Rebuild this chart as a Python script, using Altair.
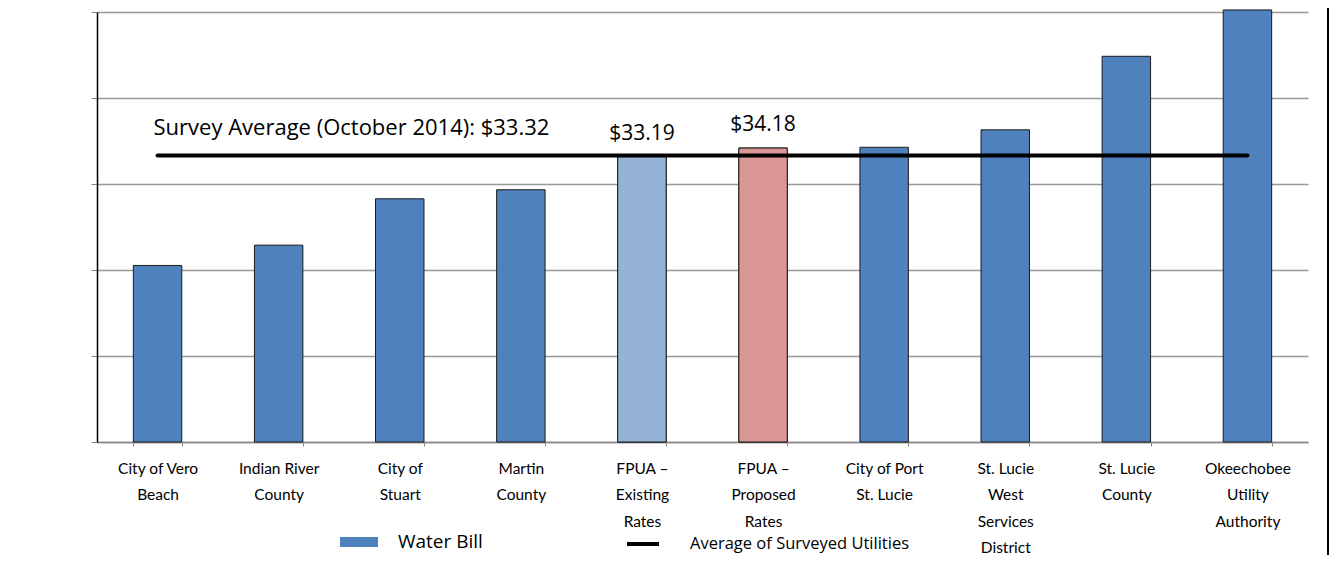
import altair as alt
import pandas as pd

categories = ["City of Vero|Beach", "Indian River|County", "City of|Stuart", "Martin|County",
              "FPUA –|Existing|Rates", "FPUA –|Proposed|Rates", "City of Port|St. Lucie",
              "St. Lucie|West|Services|District", "St. Lucie|County", "Okeechobee|Utility|Authority"]
water_bill = [20.53, 22.89, 28.28, 29.33, 33.19, 34.18, 34.27, 36.30, 44.85, 50.24]
bar_colors = ["#4F81BD", "#4F81BD", "#4F81BD", "#4F81BD", "#95B3D7", "#D99694",
              "#4F81BD", "#4F81BD", "#4F81BD", "#4F81BD"]
value_labels = ["", "", "", "", "$33.19", "$34.18", "", "", "", ""]
survey_average = 33.32
avg_text = "Survey Average (October 2014): $33.32"

FONT = "Lato"
FONT2 = "Open Sans"

df = pd.DataFrame({
    "cat": categories,
    "bill": water_bill,
    "fill": bar_colors,
    "lab": value_labels,
    "series": ["Water Bill"] * len(categories),
    "avg": [survey_average] * len(categories),
    "avg_series": ["Average of Surveyed Utilities"] * len(categories),
})

x = alt.X("cat:N", sort=categories, title=None,
          scale=alt.Scale(paddingInner=0.6, paddingOuter=0.3),
          axis=alt.Axis(labelExpr="split(datum.label, '|')", labelAngle=0,
                        labelFont=FONT, labelFontSize=15.5, labelColor="#000000",
                        labelLineHeight=26.5, labelPadding=15,
                        tickBand="extent", tickSize=4, tickColor="#888888",
                        domainColor="#888888", domainWidth=1.5,
                        labelBaseline="top"))
y_scale = alt.Scale(domain=[0, 50], nice=False)
y = alt.Y("bill:Q", scale=y_scale, title=None,
          axis=alt.Axis(values=[0, 10, 20, 30, 40, 50], labels=False, tickSize=6,
                        tickColor="#888888", domainColor="#000000", domainWidth=1.5,
                        gridColor="#999999", gridWidth=1.5, grid=True))

bars = alt.Chart(df).mark_bar(stroke="#1a1a1a", strokeWidth=1).encode(
    x=x, y=y,
    color=alt.Color("series:N",
                    scale=alt.Scale(domain=["Water Bill"], range=["#4F81BD"]),
                    legend=alt.Legend(title=None, orient="none", legendX=243, legendY=511,
                                      symbolType="M-1,-0.26H1V0.26H-1Z", symbolSize=1444,
                                      symbolStrokeWidth=0, labelFont=FONT2, labelFontSize=19,
                                      labelOffset=20, labelColor="#000000", labelLimit=300)),
)

fpua = alt.Chart(df).transform_filter("datum.lab != ''").mark_bar(
    stroke="#1a1a1a", strokeWidth=1).encode(
    x=alt.X("cat:N", sort=categories),
    y=alt.Y("bill:Q", scale=y_scale),
    fill=alt.Fill("fill:N", scale=None),
)

labels = alt.Chart(df).transform_filter("datum.lab != ''").mark_text(
    font=FONT2, fontSize=21, dy=-23, color="#000000").encode(
    x=alt.X("cat:N", sort=categories),
    y=alt.Y("bill:Q", scale=y_scale),
    text="lab:N",
)

avg_line = alt.Chart(df).mark_line(strokeWidth=4, strokeCap="round").encode(
    x=alt.X("cat:N", sort=categories),
    y=alt.Y("avg:Q", scale=y_scale),
    stroke=alt.Stroke("avg_series:N",
                      scale=alt.Scale(domain=["Average of Surveyed Utilities"], range=["#000000"]),
                      legend=alt.Legend(title=None, orient="none", legendX=528, legendY=514,
                                        symbolType="stroke", symbolSize=1024,
                                        symbolStrokeWidth=4, labelFont=FONT2, labelFontSize=16.5,
                                        labelOffset=29, labelColor="#000000", labelLimit=400)),
)

avg_label = alt.Chart(df.iloc[[0]]).mark_text(
    font=FONT2, fontSize=22, align="left", dx=-4, dy=-27, color="#000000").encode(
    x=alt.X("cat:N", sort=categories),
    y=alt.Y("avg:Q", scale=y_scale),
    text=alt.value(avg_text),
)

frame = alt.Chart(df.iloc[[0]]).mark_rule(color="#000000", strokeWidth=2).encode(
    x=alt.value(1231), y=alt.value(-12), y2=alt.value(543),
)

chart = alt.layer(bars, fpua, avg_line, labels, avg_label, frame).resolve_scale(
    color="independent", stroke="independent"
).properties(
    width=1211, height=430,
    autosize=alt.AutoSizeParams(type="none"),
    padding={"left": 89, "top": 4, "right": 21, "bottom": 113},
    background="#ffffff",
).configure_view(stroke=None)

chart.save("out.html", embed_options={"renderer": "svg", "actions": False})
